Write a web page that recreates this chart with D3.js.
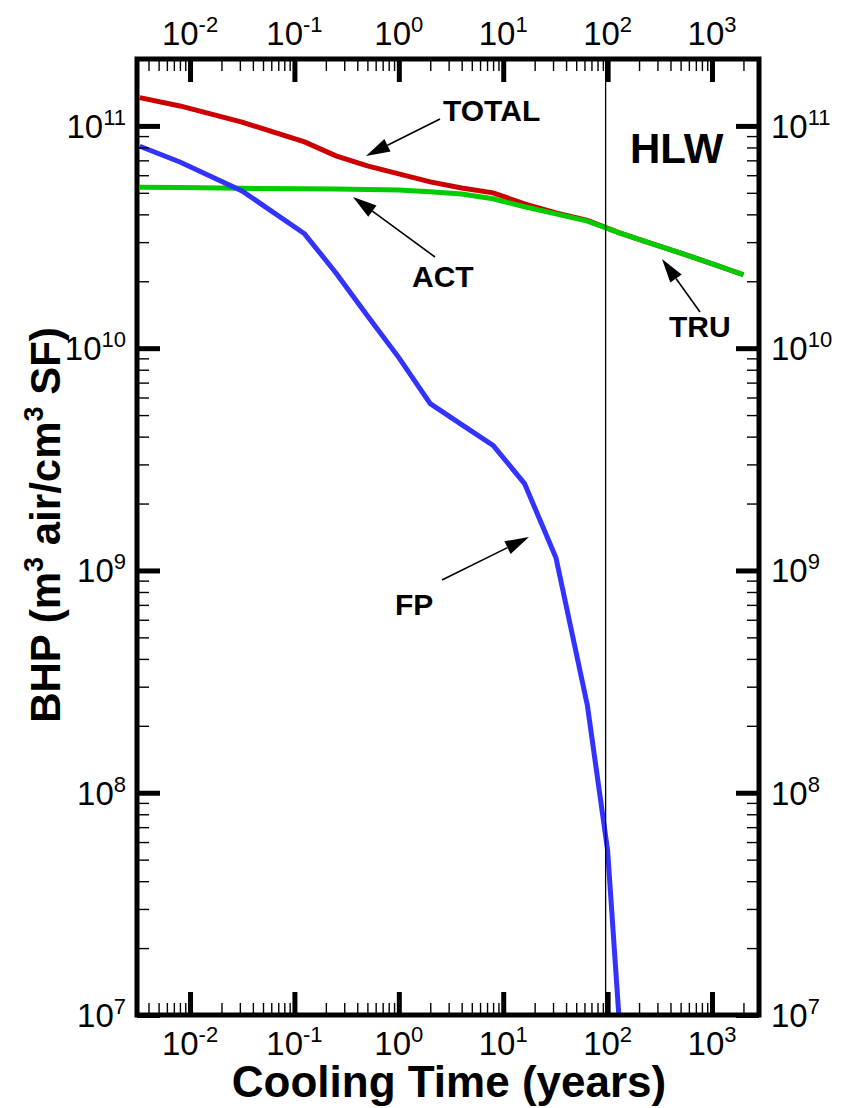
<!DOCTYPE html>
<html>
<head>
<meta charset="utf-8">
<script src="https://cdn.jsdelivr.net/npm/d3@7"></script>
<style>
  html, body { margin: 0; padding: 0; background: #fff; }
  svg { display: block; font-family: "Liberation Sans", Arial, sans-serif; }
</style>
</head>
<body>
<svg id="chart" width="855" height="1108"></svg>
<script>
// Cooling times (years)
const times = [0.0033, 0.008, 0.0315, 0.125, 0.25, 0.5, 1, 2, 4, 8, 16, 32, 64, 128, 256, 512, 1024, 2000];
// BHP (m^3 air / cm^3 SF)
const totalBHP = [1.34e11, 1.23e11, 1.04e11, 8.47e10, 7.33e10, 6.61e10, 6.08e10, 5.60e10, 5.26e10, 5.00e10, 4.46e10, 4.06e10, 3.76e10, 3.31e10, 2.97e10, 2.67e10, 2.39e10, 2.14e10];
const actBHP   = [5.30e10, 5.28e10, 5.24e10, 5.21e10, 5.20e10, 5.17e10, 5.15e10, 5.05e10, 4.94e10, 4.70e10, 4.33e10, 4.02e10, 3.73e10, 3.31e10, 2.97e10, 2.67e10, 2.39e10, 2.14e10];
const fpTimes  = [0.0033, 0.008, 0.0315, 0.125, 0.25, 0.5, 1, 2, 4, 8, 16, 32, 64, 100, 128];
const fpBHP    = [8.1e10, 6.88e10, 5.1e10, 3.27e10, 2.18e10, 1.40e10, 9.07e9, 5.63e9, 4.53e9, 3.65e9, 2.46e9, 1.14e9, 2.47e8, 5.5e7, 1.0e7];

const xDecades = [-2, -1, 0, 1, 2, 3];
const yDecades = [7, 8, 9, 10, 11];
const seriesColors = { total: "#cc0000", act: "#00cc00", fp: "#3333ff" };

const svg = d3.select("#chart");
const L = 137, R = 759, T = 59, B = 1015;

const x = d3.scaleLog().domain([Math.pow(10, -2.508), Math.pow(10, 3.45)]).range([L, R]);
const y = d3.scaleLog().domain([1e7, 2e11]).range([B, T]);

// minor tick values (2..9 of each decade inside the domain)
function minors(scale) {
  const [a, b] = scale.domain();
  const out = [];
  for (let e = Math.floor(Math.log10(a)); e <= Math.ceil(Math.log10(b)); e++) {
    for (let m = 2; m <= 9; m++) {
      const v = m * Math.pow(10, e);
      if (v >= a && v <= b) out.push(v);
    }
  }
  return out;
}
const xMajor = xDecades.map(e => Math.pow(10, e));
const yMajor = yDecades.map(e => Math.pow(10, e));

// clip for data
svg.append("defs").append("clipPath").attr("id", "plotclip")
  .append("rect").attr("x", L).attr("y", T).attr("width", R - L).attr("height", B - T);

const plot = svg.append("g").attr("clip-path", "url(#plotclip)");
const line = d3.line().x(d => x(d[0])).y(d => y(d[1]));

plot.append("path").datum(times.map((t, i) => [t, totalBHP[i]]))
  .attr("d", line).attr("fill", "none").attr("stroke", seriesColors.total).attr("stroke-width", 5);
plot.append("path").datum(times.map((t, i) => [t, actBHP[i]]))
  .attr("d", line).attr("fill", "none").attr("stroke", seriesColors.act).attr("stroke-width", 5);
plot.append("path").datum(fpTimes.map((t, i) => [t, fpBHP[i]]))
  .attr("d", line).attr("fill", "none").attr("stroke", seriesColors.fp).attr("stroke-width", 5);

// reference line at 100 years
svg.append("line").attr("x1", x(100) - 2).attr("x2", x(100) - 2).attr("y1", T).attr("y2", B)
  .attr("stroke", "#000").attr("stroke-width", 1.3);

// ticks via d3 axes (pointing inward)
function styleAxis(g, w) {
  g.select(".domain").remove();
  g.selectAll(".tick line").attr("stroke", "#000").attr("stroke-width", w);
  g.selectAll(".tick text").remove();
}
const axes = [
  [d3.axisBottom(x), `translate(0,${B})`, xMajor, minors(x)],
  [d3.axisTop(x), `translate(0,${T})`, xMajor, minors(x)],
  [d3.axisLeft(y), `translate(${L},0)`, yMajor, minors(y)],
  [d3.axisRight(y), `translate(${R},0)`, yMajor, minors(y)]
];
axes.forEach(([ax, tr, maj, mnr]) => {
  svg.append("g").attr("transform", tr)
    .call(ax.tickValues(mnr).tickSize(-12).tickFormat(""))
    .call(g => styleAxis(g, 1.4));
  svg.append("g").attr("transform", tr)
    .call(ax.tickValues(maj).tickSize(-23).tickFormat(""))
    .call(g => styleAxis(g, 5));
});

// frame
svg.append("rect").attr("x", L).attr("y", T).attr("width", R - L).attr("height", B - T)
  .attr("fill", "none").attr("stroke", "#000").attr("stroke-width", 5);

// power-of-ten labels
function powLabel(sel, e) {
  sel.append("tspan").text("10");
  sel.append("tspan").attr("font-size", 22).attr("dy", -13).text(String(e));
}
xDecades.forEach(e => {
  svg.append("text").attr("x", x(Math.pow(10, e))).attr("y", 1055)
    .attr("text-anchor", "middle").attr("font-size", 33).call(powLabel, e);
  svg.append("text").attr("x", x(Math.pow(10, e))).attr("y", 45)
    .attr("text-anchor", "middle").attr("font-size", 33).call(powLabel, e);
});
yDecades.forEach(e => {
  svg.append("text").attr("x", 126).attr("y", y(Math.pow(10, e)) + 12)
    .attr("text-anchor", "end").attr("font-size", 33).call(powLabel, e);
  svg.append("text").attr("x", 771).attr("y", y(Math.pow(10, e)) + 12)
    .attr("text-anchor", "start").attr("font-size", 33).call(powLabel, e);
});

// axis titles
svg.append("text").attr("x", 449).attr("y", 1097).attr("text-anchor", "middle")
  .attr("font-size", 44).attr("font-weight", "bold").text("Cooling Time (years)");

const yt = svg.append("text").attr("transform", "translate(60,525) rotate(-90)")
  .attr("text-anchor", "middle").attr("font-size", 42).attr("font-weight", "bold");
yt.append("tspan").text("BHP (m");
yt.append("tspan").attr("font-size", 27).attr("dy", -17).text("3");
yt.append("tspan").attr("dy", 17).text(" air/cm");
yt.append("tspan").attr("font-size", 27).attr("dy", -17).text("3");
yt.append("tspan").attr("dy", 17).text(" SF)");

// panel label
svg.append("text").attr("x", 630).attr("y", 163).attr("font-size", 42)
  .attr("font-weight", "bold").text("HLW");

// annotations with arrows
const notes = [
  { text: "TOTAL", tx: 443, ty: 121, from: [440, 119], to: [366, 156] },
  { text: "ACT",   tx: 412, ty: 287, from: [435, 257], to: [353, 197] },
  { text: "TRU",   tx: 669, ty: 337, from: [700, 312], to: [662, 259] },
  { text: "FP",    tx: 395, ty: 615, from: [442, 580], to: [529, 537] }
];
notes.forEach(n => {
  svg.append("text").attr("x", n.tx).attr("y", n.ty).attr("font-size", 30)
    .attr("font-weight", "bold").text(n.text);
  const [x1, y1] = n.from, [x2, y2] = n.to;
  const ang = Math.atan2(y2 - y1, x2 - x1);
  const hl = 24, hw = 7;
  const bx = x2 - hl * Math.cos(ang), by = y2 - hl * Math.sin(ang);
  svg.append("line").attr("x1", x1).attr("y1", y1).attr("x2", bx).attr("y2", by)
    .attr("stroke", "#000").attr("stroke-width", 1.6);
  const px = -Math.sin(ang) * hw, py = Math.cos(ang) * hw;
  svg.append("path")
    .attr("d", `M${x2},${y2}L${bx + px},${by + py}L${bx - px},${by - py}Z`)
    .attr("fill", "#000");
});
</script>
</body>
</html>
